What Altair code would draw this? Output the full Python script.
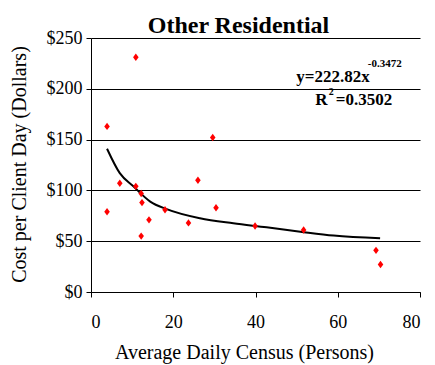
import altair as alt
import pandas as pd

# Data
census = [3.9, 3.9, 7.0, 10.9, 10.9, 12.2, 12.4, 12.2, 14.1, 18.0, 23.7, 26.0, 29.6, 30.4, 39.9, 51.7, 69.3, 70.4]
cost = [163, 79, 107, 231, 104, 97, 88, 55, 71, 81, 68, 110, 152, 83, 65, 61, 41, 27]

trend_x = [3.9, 7.0, 10.3, 14.4, 18.4, 26.5, 34.6, 42.7, 50.9, 59.0, 70.3]
trend_y = [141, 117, 104, 89, 81.5, 72.5, 67.6, 63.7, 59.4, 55.5, 52.8]

x_ticks = [0, 20, 40, 60, 80]
y_ticks = [0, 50, 100, 150, 200, 250]

ann_text = ["y=222.82x", "-0.3472", "R", "2", "=0.3502"]
ann_x = [49.9, 67.3, 54.5, 57.8, 59.5]
ann_y = [206.7, 221.5, 184, 193.5, 184]
ann_size = [17, 11, 17, 10, 17]

pts = pd.DataFrame({"census": census, "cost": cost})
trend = pd.DataFrame({"census": trend_x, "cost": trend_y})
ann = pd.DataFrame({"t": ann_text, "x": ann_x, "y": ann_y, "s": ann_size})

FONT = "Liberation Serif"

xscale = alt.Scale(domain=[0, 80], nice=False)
yscale = alt.Scale(domain=[0, 250], nice=False)

common = dict(labelFont=FONT, titleFont=FONT, labelColor="black", titleColor="black",
              domainColor="black", tickColor="black", gridColor="black", gridWidth=1,
              domainWidth=1, tickWidth=1, gridOpacity=1, titleFontWeight="normal")

xaxis = alt.Axis(values=x_ticks, grid=False, title="Average Daily Census (Persons)",
                 labelFontSize=18, titleFontSize=20, labelPadding=16, tickSize=5,
                 titleX=153, titleY=50, **common)
yaxis = alt.Axis(values=y_ticks, grid=True, labelExpr="'$' + datum.value",
                 title="Cost per Client Day (Dollars)", labelFontSize=18, titleFontSize=20,
                 labelPadding=4, tickSize=5, titleX=-62, titleY=126, **common)

points = alt.Chart(pts).mark_point(
    shape="M0,-1L0.75,0L0,1L-0.75,0Z", filled=True, color="#ff0000", size=55, opacity=1
).encode(
    x=alt.X("census:Q", scale=xscale, axis=xaxis),
    y=alt.Y("cost:Q", scale=yscale, axis=yaxis),
)

line = alt.Chart(trend).mark_line(color="black", strokeWidth=2, interpolate="monotone").encode(
    x=alt.X("census:Q", scale=xscale),
    y=alt.Y("cost:Q", scale=yscale),
)

text = alt.Chart(ann).mark_text(
    align="left", baseline="alphabetic", font=FONT, fontWeight="bold", color="black"
).encode(
    x=alt.X("x:Q", scale=xscale),
    y=alt.Y("y:Q", scale=yscale),
    text="t:N",
    size=alt.Size("s:Q", scale=None, legend=None),
)

chart = alt.layer(line, points, text).properties(
    width=329, height=254,
    background="white",
    title=alt.TitleParams("Other Residential", font=FONT, fontSize=24, fontWeight="bold",
                          color="black", dx=-17, dy=15, offset=6),
    autosize=alt.AutoSizeParams(type="none"),
    padding={"left": 83, "top": 30, "right": 7, "bottom": 74},
).configure_view(stroke=None)

chart.save("out.html", embed_options={"renderer": "svg", "actions": False})
